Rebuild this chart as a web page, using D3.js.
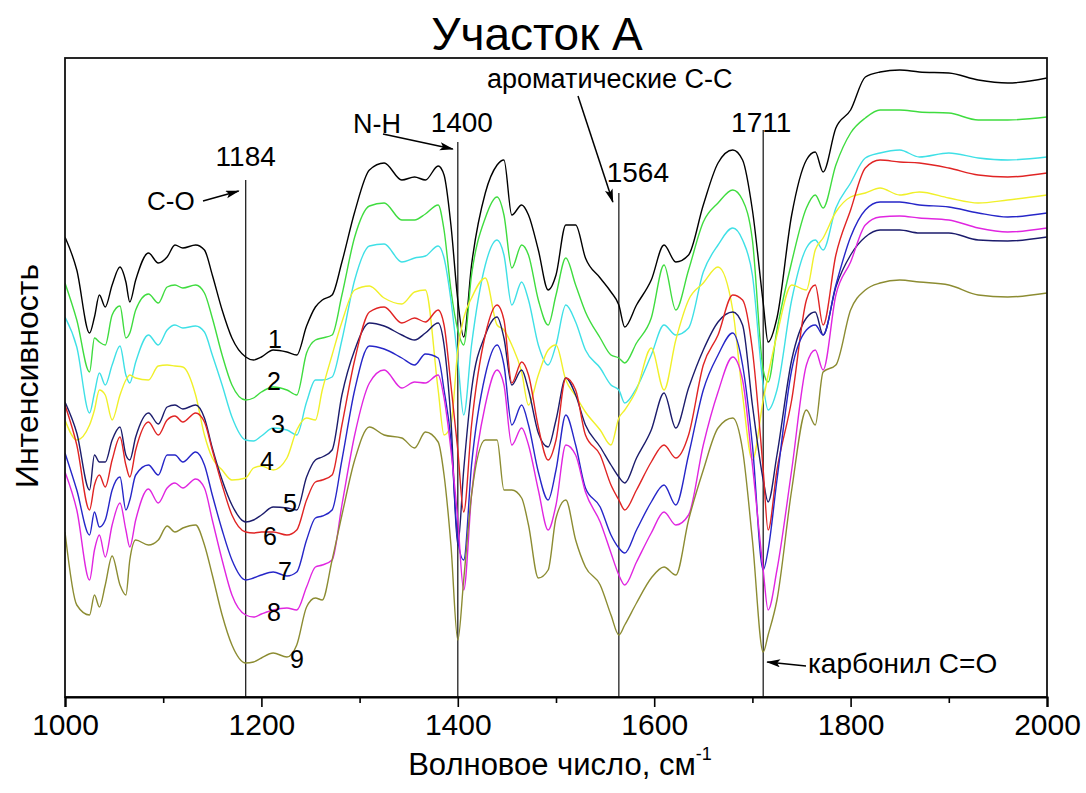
<!DOCTYPE html>
<html>
<head>
<meta charset="utf-8">
<title>Участок А</title>
<script src="https://d3js.org/d3.v7.min.js"></script>
<style>
  body { margin: 0; background: #fff; }
  text { font-family: "Liberation Sans", Arial, sans-serif; fill: #000; }
</style>
</head>
<body>
<div id="chart"></div>
<script>

// wavenumber grid, cm-1
var wavenumbers = [1000,1012,1025,1030,1035,1041,1048,1056,1062,1066,
  1072,1085,1095,1104,1112,1120,1133,1142,1150,1160,
  1170,1184,1192,1200,1212,1226,1236,1246,1255,1262,
  1272,1282,1295,1310,1325,1343,1356,1367,1380,1386,
  1393,1400,1406,1414,1428,1440,1447,1455,1465,1472,
  1482,1492,1500,1510,1520,1530,1545,1556,1564,1570,
  1582,1597,1610,1622,1635,1650,1665,1680,1690,1700,
  1711,1716,1725,1740,1755,1764,1772,1785,1800,1815,
  1830,1850,1870,1900,1930,1960,2000];

// intensity (arbitrary units) of each spectrum, offset as in the figure
var spectrum1 = [463,430,367,383,405,393,415,433,418,398,
  420,447,437,443,455,452,455,450,425,390,
  362,343,340,343,350,348,345,374,393,400,
  405,438,488,530,537,520,523,520,534,525,
  475,400,363,435,507,535,540,485,495,485,
  450,410,425,475,475,442,422,408,395,373,
  395,420,455,438,445,495,537,550,540,490,
  397,358,382,485,540,548,528,572,590,623,
  628,630,628,627,620,617,622];
var spectrum2 = [417,380,328,362,358,355,385,394,362,367,
  390,406,397,413,415,412,415,407,382,345,
  315,300,302,308,313,310,305,347,360,362,
  365,405,463,494,497,480,480,486,495,470,
  410,370,355,425,482,503,485,432,455,445,
  400,375,405,442,415,388,362,345,342,337,
  357,382,435,390,430,478,497,510,500,460,
  330,318,370,438,492,505,492,535,567,582,
  590,590,588,587,580,580,583];
var spectrum3 = [383,353,287,307,327,315,335,354,325,317,
  338,365,355,370,375,372,374,368,345,315,
  283,260,259,264,272,270,265,298,320,320,
  323,360,420,454,456,438,442,444,454,442,
  400,340,285,355,435,460,445,395,418,400,
  355,335,355,395,378,350,332,315,310,297,
  312,345,375,365,372,428,455,472,460,425,
  315,290,310,400,452,460,450,492,517,542,
  547,550,543,547,542,540,543];
var spectrum4 = [280,260,275,290,310,305,280,305,320,325,
  322,320,334,335,334,333,305,265,242,230,
  220,222,232,234,230,242,270,282,280,310,
  345,378,410,414,402,396,408,410,310,265,
  275,350,382,402,422,375,370,355,328,295,
  325,350,355,320,304,288,270,255,282,290,
  310,352,310,360,400,417,433,390,305,240,
  300,325,365,415,410,450,462,488,503,507,
  512,505,508,502,497,500,505];
var spectrum5 = [298,267,210,245,238,238,260,273,245,240,
  263,287,276,293,295,291,295,282,252,220,
  195,178,180,185,193,192,190,223,240,243,
  250,305,350,377,374,365,360,367,377,355,
  280,155,230,310,365,383,362,315,330,310,
  267,253,280,322,305,275,253,235,223,217,
  242,270,307,272,312,350,378,388,375,295,
  220,198,245,340,382,388,365,413,445,463,
  470,470,467,467,460,459,463];
var spectrum6 = [295,255,190,215,225,213,240,263,235,223,
  250,278,265,280,284,278,287,278,250,215,
  185,168,167,168,168,165,170,200,218,220,
  225,275,340,388,393,377,382,378,390,375,
  315,250,188,275,365,395,380,317,338,325,
  273,240,260,322,310,265,245,215,200,190,
  210,238,255,242,265,335,365,405,400,350,
  230,170,230,300,400,415,375,445,490,532,
  540,538,537,532,525,523,527];
var spectrum7 = [247,210,165,188,173,180,210,223,190,200,
  225,235,225,245,245,238,248,235,205,170,
  140,120,122,125,128,124,128,160,182,184,
  190,240,310,354,351,342,335,346,342,310,
  260,160,140,235,325,355,335,275,295,275,
  228,200,230,285,255,212,193,165,152,147,
  170,198,215,195,245,310,345,367,335,255,
  130,150,220,330,370,375,365,415,463,490,
  498,498,495,493,487,483,487];
var spectrum8 = [228,190,120,150,165,143,175,197,170,153,
  180,211,197,212,217,212,221,212,180,140,
  105,85,83,86,90,92,90,113,133,135,
  140,195,265,317,330,312,318,317,325,302,
  250,180,110,205,295,330,315,255,272,255,
  210,170,195,255,245,208,178,147,125,115,
  138,167,188,175,185,255,308,343,320,235,
  130,90,130,230,335,350,330,405,438,475,
  483,484,482,480,472,468,472];
var spectrum9 = [168,95,85,105,93,115,144,115,105,140,
  160,155,160,174,168,172,175,155,125,85,
  55,37,38,42,47,43,55,93,102,100,
  140,185,240,273,265,262,252,268,258,225,
  155,60,120,205,260,260,210,210,202,175,
  122,130,182,200,160,133,115,85,65,75,
  97,122,133,125,180,230,272,282,250,160,
  48,65,100,210,290,275,328,335,390,410,
  417,420,418,415,405,403,407];

var spectra = [spectrum1, spectrum2, spectrum3, spectrum4, spectrum5,
               spectrum6, spectrum7, spectrum8, spectrum9];
var spectrumNames = ["1","2","3","4","5","6","7","8","9"];
var spectrumColors = ["#000000","#3fdc3f","#3fe0e6","#f0f02a","#1c1c6c",
                      "#e02424","#2626c8","#e026e0","#8c8c32"];

var bandLines = [1184, 1400, 1564, 1711];
var majorTicks = [1000, 1200, 1400, 1600, 1800, 2000];
var minorTicks = [1100, 1300, 1500, 1700, 1900];

var width = 1086, height = 793;
var plotLeft = 65, plotRight = 1047, plotTop = 58, plotBottom = 697;

var svg = d3.select("#chart").append("svg")
  .attr("width", width).attr("height", height);

var x = d3.scaleLinear().domain([1000, 2000]).range([plotLeft, plotRight]);
var y = d3.scaleLinear().domain([3, 642]).range([plotBottom, plotTop]);

var defs = svg.append("defs");
defs.append("clipPath").attr("id", "plotclip")
  .append("rect").attr("x", plotLeft).attr("y", plotTop)
  .attr("width", plotRight - plotLeft).attr("height", plotBottom - plotTop);

defs.append("marker")
  .attr("id", "arrow").attr("markerUnits", "userSpaceOnUse")
  .attr("markerWidth", 14).attr("markerHeight", 10)
  .attr("refX", 13).attr("refY", 4).attr("orient", "auto")
  .append("path").attr("d", "M0,0 L14,4 L0,8 L3,4 z").attr("fill", "#000");

// band marker lines
var bandTop = {1184: 180, 1400: 142, 1564: 193, 1711: 130};
svg.selectAll(".band").data(bandLines).enter().append("line")
  .attr("x1", function(d){ return x(d); }).attr("x2", function(d){ return x(d); })
  .attr("y1", function(d){ return bandTop[d]; }).attr("y2", plotBottom)
  .attr("stroke", "#222").attr("stroke-width", 1.3);

// spectra
var line = d3.line()
  .x(function(d, i){ return x(wavenumbers[i]); })
  .y(function(d){ return y(d); })
  .curve(d3.curveMonotoneX);

svg.append("g").attr("clip-path", "url(#plotclip)")
  .selectAll("path").data(spectra).enter().append("path")
  .attr("d", line)
  .attr("fill", "none")
  .attr("stroke", function(d, i){ return spectrumColors[i]; })
  .attr("stroke-width", 1.4)
  .attr("stroke-linejoin", "round");

// frame
svg.append("rect").attr("x", plotLeft).attr("y", plotTop)
  .attr("width", plotRight - plotLeft).attr("height", plotBottom - plotTop)
  .attr("fill", "none").attr("stroke", "#111").attr("stroke-width", 1.8);

// x axis
var xAxis = d3.axisBottom(x).tickValues(majorTicks).tickSize(10).tickPadding(7)
  .tickFormat(d3.format("d"));
var gx = svg.append("g").attr("transform", "translate(0," + plotBottom + ")").call(xAxis);
gx.select(".domain").attr("stroke-width", 2.2);
gx.selectAll(".tick line").attr("stroke-width", 1.6);
gx.selectAll(".tick text").style("font-family", "'Liberation Sans', Arial, sans-serif")
  .style("font-size", "30px").attr("fill", "#000");

var gm = svg.append("g").attr("transform", "translate(0," + plotBottom + ")")
  .call(d3.axisBottom(x).tickValues(minorTicks).tickSize(6).tickFormat(""));
gm.select(".domain").remove();
gm.selectAll(".tick line").attr("stroke-width", 1.6);

// titles
svg.append("text").attr("x", 537).attr("y", 50).attr("text-anchor", "middle")
  .style("font-size", "46px").text("Участок А");

svg.append("text").attr("transform", "translate(38,376) rotate(-90)")
  .attr("text-anchor", "middle").style("font-size", "32px").text("Интенсивность");

var xl = svg.append("text").attr("x", 560).attr("y", 775).attr("text-anchor", "middle")
  .style("font-size", "31px");
xl.append("tspan").text("Волновое число, см");
xl.append("tspan").attr("dy", -15).style("font-size", "18px").text("-1");

// band labels
svg.append("text").attr("x", x(1184)).attr("y", 166).attr("text-anchor", "middle")
  .style("font-size", "28px").text("1184");
svg.append("text").attr("x", x(1400) + 4).attr("y", 132).attr("text-anchor", "middle")
  .style("font-size", "28px").text("1400");
svg.append("text").attr("x", x(1564) + 19).attr("y", 182).attr("text-anchor", "middle")
  .style("font-size", "28px").text("1564");
svg.append("text").attr("x", x(1711) - 2).attr("y", 132).attr("text-anchor", "middle")
  .style("font-size", "28px").text("1711");

// group annotations with arrows
svg.append("text").attr("x", 147).attr("y", 210).style("font-size", "26px").text("C-O");
svg.append("line").attr("x1", 203).attr("y1", 201).attr("x2", x(1184) - 7).attr("y2", 191)
  .attr("stroke", "#000").attr("stroke-width", 1.5).attr("marker-end", "url(#arrow)");

svg.append("text").attr("x", 353).attr("y", 133).style("font-size", "27px").text("N-H");
svg.append("line").attr("x1", 383).attr("y1", 134).attr("x2", x(1400) - 5).attr("y2", 149)
  .attr("stroke", "#000").attr("stroke-width", 1.5).attr("marker-end", "url(#arrow)");

svg.append("text").attr("x", 487).attr("y", 88).style("font-size", "27px").text("ароматические C-C");
svg.append("line").attr("x1", 578).attr("y1", 96).attr("x2", x(1564) - 6).attr("y2", 202)
  .attr("stroke", "#000").attr("stroke-width", 1.5).attr("marker-end", "url(#arrow)");

svg.append("text").attr("x", 808).attr("y", 673).style("font-size", "28px").text("карбонил C=O");
svg.append("line").attr("x1", 806).attr("y1", 666).attr("x2", x(1711) + 4).attr("y2", 662)
  .attr("stroke", "#000").attr("stroke-width", 1.5).attr("marker-end", "url(#arrow)");

// spectrum numbers
var numberPos = [[268,348],[267,390],[271,433],[260,470],[283,512],[263,545],[278,580],[267,621],[290,668]];
svg.selectAll(".num").data(spectrumNames).enter().append("text")
  .attr("x", function(d, i){ return numberPos[i][0]; })
  .attr("y", function(d, i){ return numberPos[i][1]; })
  .style("font-size", "25px").text(function(d){ return d; });

</script>
</body>
</html>
